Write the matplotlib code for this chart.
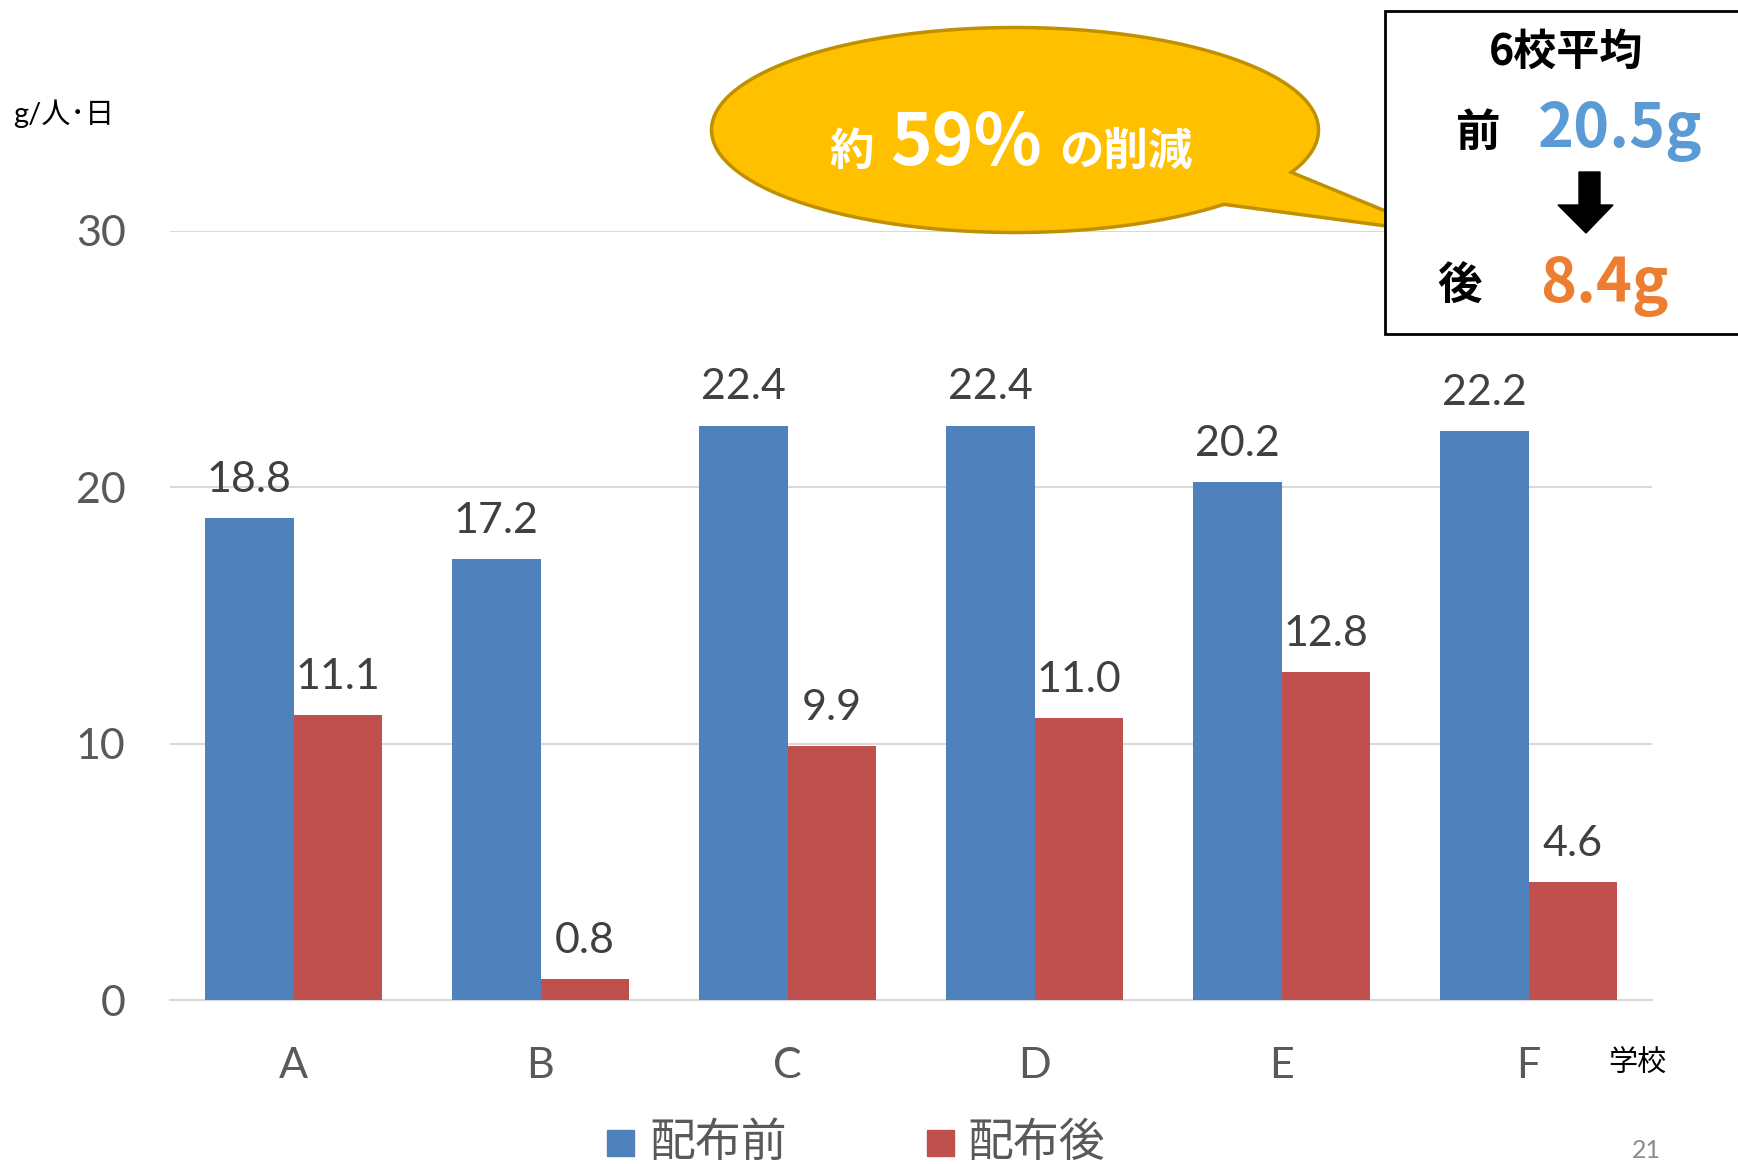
import numpy as np
import matplotlib
matplotlib.use('Agg')
import matplotlib.pyplot as plt
from matplotlib.patches import Rectangle, Polygon

plt.rcParams['font.family'] = ['Lato', 'Noto Sans CJK JP', 'DejaVu Sans']

# data: food waste per person per day, by school
schools = ['A', 'B', 'C', 'D', 'E', 'F']
before = [18.8, 17.2, 22.4, 22.4, 20.2, 22.2]
after = [11.1, 0.8, 9.9, 11.0, 12.8, 4.6]
series_names = ['配布前', '配布後']
avg_before = 20.5
avg_after = 8.4
reduction_pct = 59
yticks = [0, 10, 20, 30]

BLUE = '#4F81BD'
RED = '#C0504D'
W, H = 1738, 1164
CJK = ['Noto Sans CJK JP', 'DejaVu Sans']

fig = plt.figure(figsize=(W / 100, H / 100), dpi=100)
fig.patch.set_facecolor('white')

# ---- main bar chart ----
ax = fig.add_axes([170 / W, 1 - 1000 / H, (1652 - 170) / W, (1000 - 231) / H])
x = np.arange(len(schools))
bw = 0.36
ax.bar(x - bw / 2, before, bw, color=BLUE, zorder=3)
ax.bar(x + bw / 2, after, bw, color=RED, zorder=3)

for xi, v in zip(x, before):
    ax.annotate(f'{v:.1f}', (xi - bw / 2, v), xytext=(0, 19), textcoords='offset points',
                ha='center', va='baseline', fontsize=31, color='#404040')
for xi, v in zip(x, after):
    ax.annotate(f'{v:.1f}', (xi + bw / 2, v), xytext=(0, 19), textcoords='offset points',
                ha='center', va='baseline', fontsize=31, color='#404040')

ax.set_xlim(-0.5, 5.5)
ax.set_ylim(0, 30)
ax.set_yticks(yticks)
ax.set_xticks(x)
ax.set_xticklabels(schools)
ax.tick_params(axis='y', length=0, pad=32, labelsize=31, labelcolor='#595959')
ax.tick_params(axis='x', length=0, pad=34, labelsize=31, labelcolor='#595959')
ax.grid(axis='y', color='#D9D9D9', lw=1.5, zorder=0)
for s in ['left', 'right', 'top']:
    ax.spines[s].set_visible(False)
ax.spines['bottom'].set_color('#D9D9D9')
ax.spines['bottom'].set_linewidth(1.5)

# ---- overlay in pixel coordinates for annotations ----
ov = fig.add_axes([0, 0, 1, 1], zorder=5)
ov.set_xlim(0, W)
ov.set_ylim(H, 0)
ov.axis('off')

# unit and axis name
ov.text(13, 114, 'g/人･日', fontsize=21, va='center', ha='left', color='black')
ov.text(1637, 1064, '学校', family=CJK, fontsize=21, va='center', ha='center', color='black')
ov.text(1646, 1162, '21', fontsize=18, va='bottom', ha='center', color='#8C8C8C')

# legend
for (lx, tx), name, c in zip([(607, 649), (927, 967)], series_names, [BLUE, RED]):
    ov.add_patch(Rectangle((lx, 1130), 27, 26, color=c))
    ov.text(tx, 1143, name, family=CJK, fontsize=33, va='center', ha='left', color='#595959')

# speech bubble: ellipse with a tail pointing at the summary box
cx, cy, a, b = 1015, 130, 303.5, 102.5
t = np.radians(np.linspace(46.5, 384.4, 400))
pts = np.column_stack([cx + a * np.cos(t), cy + b * np.sin(t)])
pts = np.vstack([pts, [1439, 233]])
ov.add_patch(Polygon(pts, closed=True, fc='#FFC000', ec='#BF9000', lw=2.5))
ov.text(852, 165, '約', family=CJK, fontsize=32, fontweight='bold', color='white',
        ha='center', va='baseline')
ov.text(966, 165, f'{reduction_pct}%', family=CJK, fontsize=51, fontweight='bold',
        color='white', ha='center', va='baseline')
ov.text(1059, 165, 'の削減', family=CJK, fontsize=32, fontweight='bold', color='white',
        ha='left', va='baseline')

# summary box
ov.add_patch(Rectangle((1385, 11), 400, 323, fc='white', ec='black', lw=2))
ov.text(1566, 52, '6校平均', family=CJK, fontsize=31, fontweight='bold', ha='center', va='center')
ov.text(1478, 133, '前', family=CJK, fontsize=32, fontweight='bold', ha='center', va='center')
ov.text(1538, 147, f'{avg_before}g', family=CJK, fontsize=44, fontweight='bold',
        color='#5B9BD5', ha='left', va='baseline')
ov.add_patch(Polygon([[1579, 172], [1600, 172], [1600, 205], [1613, 205], [1586, 233],
                      [1558, 205], [1579, 205]], closed=True, color='black'))
ov.text(1460, 287, '後', family=CJK, fontsize=32, fontweight='bold', ha='center', va='center')
ov.text(1540, 302, f'{avg_after}g', family=CJK, fontsize=44, fontweight='bold',
        color='#ED7D31', ha='left', va='baseline')

fig.savefig('out.png', dpi=100)
